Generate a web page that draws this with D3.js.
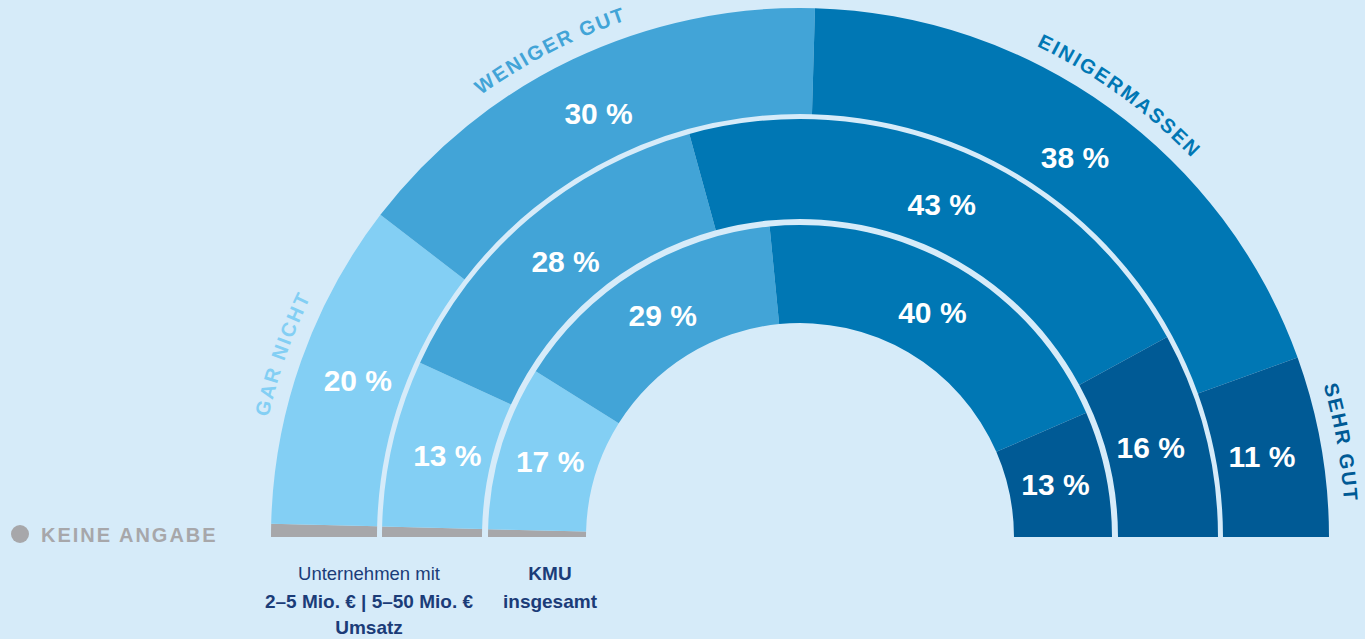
<!DOCTYPE html>
<html>
<head>
<meta charset="utf-8">
<script src="https://cdn.jsdelivr.net/npm/d3@7"></script>
<style>
  html, body { margin: 0; padding: 0; background: #d6ebf9; }
  svg { display: block; font-family: "Liberation Sans", Arial, sans-serif; }
  .pct { fill: #fff; font-weight: bold; font-size: 30px; }
  .cat-label { font-weight: bold; font-size: 20px; letter-spacing: 2px; }
  .ring-label { fill: #1b3c78; font-size: 18.5px; }
</style>
</head>
<body>
<div class="chart"></div>
<script>
// answer categories, from left to right along the half circle
const categories = ['keine Angabe', 'gar nicht', 'weniger gut', 'einigermaßen', 'sehr gut'];
const categoryLabels = ['', 'GAR NICHT', 'WENIGER GUT', 'EINIGERMASSEN', 'SEHR GUT'];
const categoryColors = ['#a7a7aa', '#83cff4', '#42a4d7', '#0077b4', '#005a95'];

// one ring per company group (outer -> inner)
const rings = ['2–5 Mio. €', '5–50 Mio. €', 'KMU insgesamt'];
const values2to5 = [0.8, 20, 30, 38, 11];
const values5to50 = [0.8, 13, 28, 43, 16];
const valuesKMU = [0.8, 17, 29, 40, 13];

const svg_width = 1365;
const svg_height = 639;
const cx = 800, cy = 537;
const ringRadii = [[423, 529], [318, 418], [214, 312]];
const pctRadii = [469, 362, 261];
const labelRadius = 545;

const svg = d3.select('.chart').append('svg')
    .attr('width', svg_width).attr('height', svg_height);

const pie = d3.pie().sort(null)
    .startAngle(-Math.PI / 2).endAngle(Math.PI / 2);

const g = svg.append('g').attr('transform', `translate(${cx},${cy})`);

[values2to5, values5to50, valuesKMU].forEach((vals, i) => {
    const arcs = pie(vals);
    const arc = d3.arc().innerRadius(ringRadii[i][0]).outerRadius(ringRadii[i][1]);
    const labelArc = d3.arc().innerRadius(pctRadii[i]).outerRadius(pctRadii[i]);
    const ring = g.append('g').attr('class', 'ring');
    ring.selectAll('path')
        .data(arcs)
        .enter()
        .append('path')
        .attr('d', arc)
        .style('fill', (d, j) => categoryColors[j]);
    ring.selectAll('text')
        .data(arcs.filter((d, j) => j > 0))
        .enter()
        .append('text')
        .attr('class', 'pct')
        .attr('x', d => labelArc.centroid(d)[0])
        .attr('y', d => labelArc.centroid(d)[1])
        .attr('text-anchor', 'middle')
        .attr('dy', '0.36em')
        .text(d => `${d.data} %`);
});

// curved category labels along the outer ring
svg.append('defs').append('path')
    .attr('id', 'labelArc')
    .attr('d', `M${cx - labelRadius},${cy} A${labelRadius},${labelRadius} 0 0 1 ${cx + labelRadius},${cy}`);

const outerArcs = pie(values2to5);
svg.selectAll('.cat-label')
    .data(outerArcs.filter((d, j) => j > 0))
    .enter()
    .append('text')
    .attr('class', 'cat-label')
    .style('fill', d => categoryColors[d.index])
    .append('textPath')
    .attr('href', '#labelArc')
    .attr('text-anchor', 'middle')
    .attr('startOffset', d => {
        let mid = (d.startAngle + d.endAngle) / 2;
        if (d.index === 2) mid -= 0.03; // "weniger gut" sits a little left of the slice middle
        return labelRadius * (mid + Math.PI / 2);
    })
    .text(d => categoryLabels[d.index]);

// legend for "keine Angabe"
const legend = svg.append('g').attr('transform', 'translate(20,534)');
legend.append('circle').attr('r', 9).style('fill', categoryColors[0]);
legend.append('text')
    .attr('x', 21).attr('y', 7.5)
    .style('fill', categoryColors[0])
    .style('font-weight', 'bold')
    .style('font-size', '20px')
    .style('letter-spacing', '2px')
    .text(categories[0].toUpperCase());

// ring captions
const caption = svg.append('g').attr('class', 'ring-label');
caption.append('text').attr('x', 369).attr('y', 580).attr('text-anchor', 'middle')
    .text('Unternehmen mit');
caption.append('text').attr('x', 369).attr('y', 608).attr('text-anchor', 'middle')
    .style('font-weight', 'bold').style('font-size', '19px')
    .text(`${rings[0]} | ${rings[1]}`);
caption.append('text').attr('x', 369).attr('y', 634).attr('text-anchor', 'middle')
    .style('font-weight', 'bold').style('font-size', '19px')
    .text('Umsatz');
const kmu = rings[2].split(' ');
caption.append('text').attr('x', 550).attr('y', 580).attr('text-anchor', 'middle')
    .style('font-weight', 'bold').style('font-size', '19px').text(kmu[0]);
caption.append('text').attr('x', 550).attr('y', 608).attr('text-anchor', 'middle')
    .style('font-weight', 'bold').style('font-size', '19px').text(kmu[1]);
</script>
</body>
</html>
